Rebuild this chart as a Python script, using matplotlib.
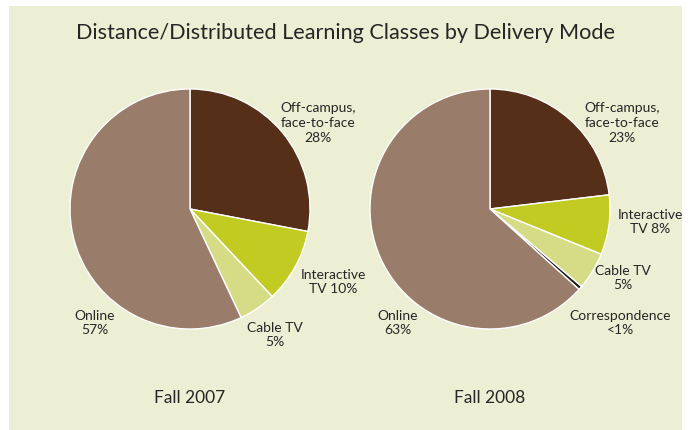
import matplotlib
matplotlib.use("Agg")
import matplotlib.pyplot as plt
from matplotlib.patches import Rectangle

plt.rcParams['font.family'] = ['Lato', 'DejaVu Sans']

title = "Distance/Distributed Learning Classes by Delivery Mode"
years = ["Fall 2007", "Fall 2008"]

labels_2007 = ["Off-campus,\nface-to-face\n28%", "Interactive\nTV 10%", "Cable TV\n5%", "Online\n57%"]
values_2007 = [28, 10, 5, 57]
colors_2007 = ["#552F18", "#C2CB22", "#D6DC86", "#9A7C6A"]

labels_2008 = ["Off-campus,\nface-to-face\n23%", "Interactive\nTV 8%", "Cable TV\n5%", "Correspondence\n<1%", "Online\n63%"]
values_2008 = [23, 8, 5, 0.5, 63]
colors_2008 = ["#552F18", "#C2CB22", "#D6DC86", "#1A1A1A", "#9A7C6A"]

W, H = 688, 431
fig = plt.figure(figsize=(W / 100, H / 100), dpi=100, facecolor="white")
ax = fig.add_axes([0, 0, 1, 1])
ax.set_facecolor("white")

bg = "#ECEFD3"
ax.add_patch(Rectangle((9, 0), 673, H - 7, facecolor=bg, edgecolor="none", zorder=0))

def py(y):
    return H - y

txt = "#262626"
ax.text(346, py(33), title, ha="center", va="center", fontsize=15.6, color=txt)

# pies
pies = [
    (values_2007, colors_2007, labels_2007, (190, 210), [(318, 123), (333, 282), (275, 335), (95, 323)]),
    (values_2008, colors_2008, labels_2008, (490, 210), [(622, 123), (650, 222), (623, 278), (620, 323), (398, 323)]),
]
for vals, cols, labs, (cx, cy), lpos in pies:
    ax.pie(vals, colors=cols, startangle=90, counterclock=False, radius=120,
           center=(cx, py(cy)), wedgeprops=dict(edgecolor="white", linewidth=1.0),
           frame=True)
    for lab, (lx, lyy) in zip(labs, lpos):
        ax.text(lx, py(lyy), lab, ha="center", va="center", fontsize=10,
                color=txt, linespacing=1.25)

for yr, x in zip(years, [190, 490]):
    ax.text(x, py(398), yr, ha="center", va="center", fontsize=12.5, color=txt)

ax.set_xlim(0, W)
ax.set_ylim(0, H)
ax.set_aspect("auto")
ax.axis("off")
fig.savefig("out.png", dpi=100, facecolor="white")
